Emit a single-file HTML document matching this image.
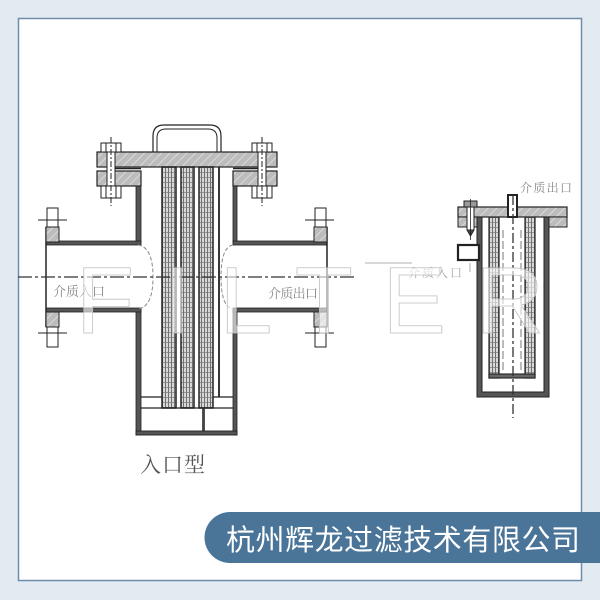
<!DOCTYPE html>
<html><head><meta charset="utf-8"><style>
html,body{margin:0;padding:0;background:#e2eaf2;}
svg{display:block;}
</style></head><body>
<svg width="600" height="600" viewBox="0 0 600 600" xmlns="http://www.w3.org/2000/svg">
<defs>
<pattern id="hatch" width="6" height="6" patternUnits="userSpaceOnUse" patternTransform="rotate(45)">
<rect width="6" height="6" fill="#bcbcbc"/>
<line x1="0" y1="0" x2="0" y2="6" stroke="#e2e2e2" stroke-width="1.6"/>
</pattern>
<pattern id="grid" width="3" height="5" patternUnits="userSpaceOnUse">
<rect width="3" height="5" fill="#d8d8d8"/>
<line x1="0.5" y1="0" x2="0.5" y2="5" stroke="#555" stroke-width="0.8"/>
<line x1="0" y1="2.5" x2="3" y2="2.5" stroke="#777" stroke-width="0.7"/>
</pattern>
</defs>
<rect x="0" y="0" width="600" height="600" fill="#e2eaf2"/>
<rect x="18.5" y="18.5" width="563" height="562" fill="#ffffff" stroke="#6f8dab" stroke-width="1.5"/>

<!-- ===== MAIN FILTER ===== -->
<g stroke="#222" fill="none">
<path d="M153,152 V136 Q153,125 164,125 H210 Q221,125 221,136 V152" stroke-width="1.2"/>
<path d="M157,152 V138 Q157,129 166,129 H208 Q217,129 217,138 V152" stroke-width="1"/>
<rect x="97" y="152" width="180" height="15" fill="url(#hatch)" stroke-width="1.2"/>
<rect x="97" y="171" width="44" height="15" fill="url(#hatch)" stroke-width="1.2"/>
<rect x="233" y="171" width="44" height="15" fill="url(#hatch)" stroke-width="1.2"/>
<line x1="115" y1="168.5" x2="141" y2="168.5" stroke-width="1.5"/>
<line x1="233" y1="168.5" x2="259" y2="168.5" stroke-width="1.5"/>
<g stroke-width="1">
<rect x="101" y="143" width="20" height="9" fill="#fff"/>
<line x1="106" y1="143" x2="106" y2="152"/><line x1="116" y1="143" x2="116" y2="152"/>
<rect x="101" y="186" width="20" height="12" fill="#fff"/>
<line x1="106" y1="186" x2="106" y2="198"/><line x1="116" y1="186" x2="116" y2="198"/>
<rect x="107" y="152" width="8" height="34" fill="#fff"/>
<line x1="111" y1="137" x2="111" y2="206" stroke-dasharray="6 2 2 2"/>
<rect x="252" y="143" width="20" height="9" fill="#fff"/>
<line x1="257" y1="143" x2="257" y2="152"/><line x1="267" y1="143" x2="267" y2="152"/>
<rect x="252" y="186" width="20" height="12" fill="#fff"/>
<line x1="257" y1="186" x2="257" y2="198"/><line x1="267" y1="186" x2="267" y2="198"/>
<rect x="258" y="152" width="8" height="34" fill="#fff"/>
<line x1="262" y1="137" x2="262" y2="206" stroke-dasharray="6 2 2 2"/>
</g>
<!-- body walls -->
<rect x="136" y="186" width="5" height="57" fill="#555" stroke-width="0.8"/>
<rect x="233" y="186" width="4" height="57" fill="#555" stroke-width="0.8"/>
<rect x="136" y="309" width="5" height="126" fill="#555" stroke-width="0.8"/>
<rect x="233" y="309" width="4" height="126" fill="#555" stroke-width="0.8"/>
<!-- pipes -->
<rect x="46" y="241" width="95" height="4" fill="#555" stroke-width="0.8"/>
<rect x="46" y="308" width="95" height="4" fill="#555" stroke-width="0.8"/>
<rect x="233" y="241" width="94" height="4" fill="#555" stroke-width="0.8"/>
<rect x="233" y="308" width="94" height="4" fill="#555" stroke-width="0.8"/>
<line x1="46" y1="227" x2="46" y2="327" stroke-width="1.5"/>
<line x1="327" y1="227" x2="327" y2="327" stroke-width="1.5"/>
<g stroke-width="1">
<rect x="46" y="227" width="13" height="15" fill="url(#hatch)"/>
<rect x="47" y="208" width="11" height="19" fill="#fff"/>
<line x1="38" y1="220" x2="67" y2="220"/>
<rect x="46" y="312" width="13" height="15" fill="url(#hatch)"/>
<rect x="47" y="327" width="11" height="20" fill="#fff"/>
<line x1="38" y1="333" x2="67" y2="333"/>
<rect x="314" y="227" width="13" height="15" fill="url(#hatch)"/>
<rect x="315" y="208" width="11" height="19" fill="#fff"/>
<line x1="305" y1="220" x2="334" y2="220"/>
<rect x="314" y="312" width="13" height="15" fill="url(#hatch)"/>
<rect x="315" y="327" width="11" height="20" fill="#fff"/>
<line x1="305" y1="333" x2="334" y2="333"/>
</g>
<path d="M138,245 Q153,247 153,277 Q153,307 138,309" stroke="#8a8a8a" stroke-dasharray="4 2"/>
<path d="M233,245 Q221,247 221,277 Q221,307 233,309" stroke="#8a8a8a" stroke-dasharray="4 2"/>
<!-- tubes -->
<rect x="162" y="167" width="14" height="241" fill="url(#grid)" stroke-width="1.5"/>
<rect x="181" y="167" width="13" height="241" fill="url(#grid)" stroke-width="1.5"/>
<rect x="199" y="167" width="14" height="241" fill="url(#grid)" stroke-width="1.5"/>
<line x1="219" y1="167" x2="219" y2="397" stroke-width="1.8"/>
<line x1="141" y1="397" x2="162" y2="397" stroke-width="1.3"/>
<line x1="213" y1="397" x2="233" y2="397" stroke-width="1.3"/>
<line x1="141" y1="408" x2="233" y2="408" stroke-width="1.3"/>
<rect x="202.5" y="408" width="2" height="24" fill="#444" stroke-width="0.6"/>
<rect x="136" y="431" width="101" height="4" fill="#555" stroke-width="0.9"/>
<line x1="18" y1="277" x2="355" y2="277" stroke="#333" stroke-width="1.3" stroke-dasharray="14 3 3 3"/>
</g>

<!-- ===== RIGHT FILTER ===== -->
<g stroke="#222" fill="none">
<rect x="477" y="217" width="5" height="180" fill="#555" stroke="none"/>
<rect x="544" y="217" width="5" height="180" fill="#555" stroke="none"/>
<rect x="477" y="392" width="72" height="5" fill="#555" stroke="none"/>
<path d="M477,217 V397 H549 V217 M482,217 V392 H544 V217" stroke-width="1"/>
<rect x="489" y="217" width="10" height="161" fill="url(#grid)" stroke-width="1.2"/>
<rect x="525" y="217" width="10" height="161" fill="url(#grid)" stroke-width="1.2"/>
<rect x="489" y="374" width="46" height="4" fill="#666" stroke-width="1.1"/>
<line x1="503" y1="230" x2="503" y2="370" stroke="#777" stroke-dasharray="8 3"/>
<line x1="521" y1="230" x2="521" y2="370" stroke="#777" stroke-dasharray="8 3"/>
<rect x="458" y="207" width="109" height="10" fill="url(#hatch)" stroke-width="1.2"/>
<rect x="458" y="217" width="19" height="10" fill="url(#hatch)" stroke-width="1"/>
<rect x="549" y="217" width="18" height="10" fill="url(#hatch)" stroke-width="1"/>
<rect x="464" y="201" width="13" height="6" fill="#999" stroke-width="1"/>
<rect x="467" y="207" width="7" height="23" fill="#fff" stroke-width="1"/>
<path d="M467,230 L470.5,236 L474,230" fill="#444" stroke-width="1"/>
<line x1="470.5" y1="199" x2="470.5" y2="240" stroke-width="0.8"/>
<rect x="508" y="195" width="9" height="22" fill="#fff" stroke-width="2"/>
<rect x="458" y="245" width="21" height="15" fill="#fff" stroke-width="2.2"/>
<line x1="513" y1="195" x2="513" y2="418" stroke="#333" stroke-width="1.3" stroke-dasharray="10 3 3 3"/>
<path d="M365,263 H412" stroke="#999" stroke-width="0.8"/>
<path d="M470,263 V272" stroke="#999" stroke-width="0.8"/>
</g>

<g font-family="'Liberation Serif','Noto Serif CJK SC',serif" fill="#888">
<text x="53" y="296" font-size="13" textLength="52">介质入口</text>
<text x="268" y="298" font-size="13" textLength="50">介质出口</text>
<text x="520" y="192" font-size="12" textLength="52">介质出口</text>
<text x="408" y="277" font-size="12" textLength="54" fill="#aaa">介质入口</text>
</g>

<text x="76" y="333" font-family="'Liberation Sans',sans-serif" font-size="95" textLength="468" lengthAdjust="spacing" fill="#ffffff" fill-opacity="0.6" stroke="#c0c0c0" stroke-width="0.8">FILTER</text>

<text x="140" y="472" font-family="'Liberation Serif','Noto Serif CJK SC',serif" font-size="21" textLength="65" fill="#555">入口型</text>

<path d="M230,512 H600 V563 H230 A25.5,25.5 0 0 1 230,512 Z" fill="#4a7498"/>
<text x="226" y="550" font-family="'Liberation Sans','Noto Sans CJK SC',sans-serif" font-size="29" textLength="354" lengthAdjust="spacing" fill="#ffffff">杭州辉龙过滤技术有限公司</text>
</svg>
</body></html>
